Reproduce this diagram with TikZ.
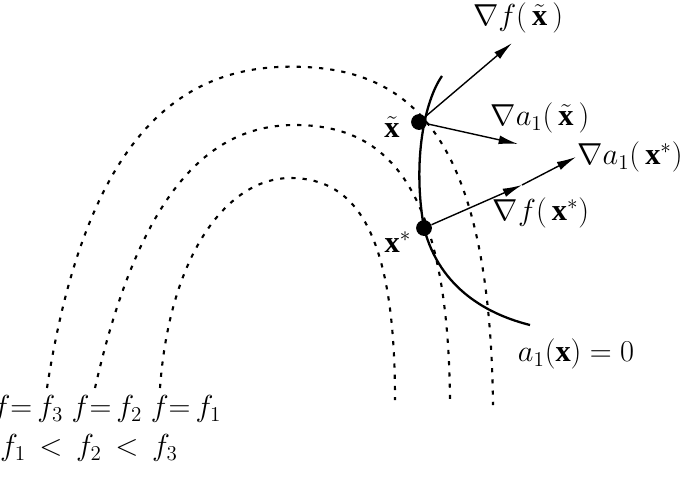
\documentclass[tikz,border=0pt]{standalone}
\usepackage{fontspec}
\setmainfont{Liberation Serif}
\usepackage{amsmath}
\usetikzlibrary{arrows.meta,decorations.markings}

\begin{document}
\begin{tikzpicture}[x=0.02cm, y=-0.02cm, font=\LARGE,
    level/.style={line width=1.2pt, dash pattern=on 2.4pt off 4pt},
    grad/.style={-{Latex[length=11pt,width=5pt]}, thick},
    spot/.style={circle, fill, inner sep=0pt, minimum size=9pt}]
    \useasboundingbox (0,0) rectangle (685,487);

    % level sets of f
    \draw[level] (47,388) .. controls (90,110) and (200,62) .. (305,67)
        .. controls (420,72) and (490,150) .. (493,405);
    \draw[level] (95,388) .. controls (140,190) and (210,125) .. (295,125)
        .. controls (390,125) and (448,190) .. (450,400);
    \draw[level] (160,388) .. controls (170,250) and (230,178) .. (290,178)
        .. controls (360,178) and (395,240) .. (395,400);

    % constraint
    \draw[line width=1.3pt] (442,76) .. controls (425,100) and (412,160) .. (424,228)
        .. controls (440,290) and (490,315) .. (530,325);

    \node[spot] (xt) at (419,122) {};
    \node[spot] (xs) at (424,228) {};
    \coordinate (gft) at (512,43);
    \coordinate (gat) at (518,144);
    \coordinate (gfs) at (522,185);
    \coordinate (gas) at (576,157);

    \draw[grad] (xt) -- (gft);
    \draw[grad] (xt) -- (gat);
    \draw[grad] (xs) -- (gfs);
    \draw[grad] (gfs) -- (gas);

    \node (lft) at (518,18) {$\nabla f(\,\tilde{\mathbf{x}}\,)$};
    \node (lat) at (540,118) {$\nabla a_1(\,\tilde{\mathbf{x}}\,)$};
    \node (las) at (630,157) {$\nabla a_1(\,\mathbf{x}^*)$};
    \node (lfs) at (541,213) {$\nabla f(\,\mathbf{x}^*)$};
    \node (lxt) at (392,127) {$\tilde{\mathbf{x}}$};
    \node (lxs) at (398,242) {$\mathbf{x}^*$};
    \node (lcon) at (576,354) {$a_1(\mathbf{x}) = 0$};
    \node (lf) at (107,409) {$f{=}\,f_3\; f{=}\,f_2\; f{=}\,f_1$};
    \node (lord) at (89,448) {$f_1 \,<\, f_2 \,<\, f_3$};
\end{tikzpicture}
\end{document}
